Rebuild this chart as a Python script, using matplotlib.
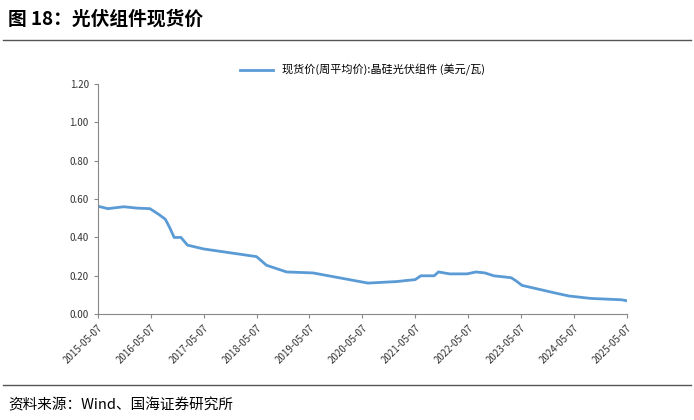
import matplotlib
matplotlib.use("Agg")
import matplotlib.pyplot as plt
import pandas as pd

plt.rcParams['font.family'] = ['Noto Sans CJK SC', 'DejaVu Sans']

dates = ["2015-05-07", "2015-07-15", "2015-11-01", "2016-02-01", "2016-05-01", "2016-07-01",
         "2016-08-15", "2016-09-15", "2016-10-15", "2016-12-01", "2017-01-15", "2017-05-07",
         "2018-05-07", "2018-07-15", "2018-12-01", "2019-06-01", "2020-06-15", "2021-01-01",
         "2021-03-01", "2021-05-07", "2021-06-15", "2021-09-15", "2021-10-15", "2022-01-01",
         "2022-05-01", "2022-07-01", "2022-09-01", "2022-11-01", "2023-01-01", "2023-03-01",
         "2023-04-01", "2023-05-15", "2024-01-01", "2024-04-01", "2024-09-01", "2025-04-01",
         "2025-05-07"]
price = [0.563, 0.550, 0.560, 0.553, 0.550, 0.520,
         0.495, 0.450, 0.400, 0.400, 0.360, 0.340,
         0.300, 0.255, 0.220, 0.215, 0.162, 0.170,
         0.175, 0.180, 0.200, 0.200, 0.220, 0.210,
         0.210, 0.220, 0.215, 0.200, 0.195, 0.190,
         0.175, 0.150, 0.110, 0.095, 0.082, 0.075,
         0.070]
dates = pd.to_datetime(dates)
tick_dates = pd.to_datetime([f"{y}-05-07" for y in range(2015, 2026)])
series_label = "现货价(周平均价):晶硅光伏组件 (美元/瓦)"

fig = plt.figure(figsize=(6.94, 4.20), dpi=100)
ax = fig.add_axes([0.141, 0.252, 0.762, 0.548])
ax.plot(dates, price, color="#5B9BD5", lw=2.0, label=series_label)
ax.set_ylim(0, 1.2)
ax.set_yticks([0, 0.2, 0.4, 0.6, 0.8, 1.0, 1.2])
ax.set_yticklabels([f"{v:.2f}" for v in ax.get_yticks()], fontsize=7, color="#333333")
ax.set_xlim(tick_dates[0], tick_dates[-1])
ax.set_xticks(tick_dates)
ax.set_xticklabels([d.strftime("%Y-%m-%d") for d in tick_dates], rotation=45,
                   ha="right", rotation_mode="anchor", fontsize=7, color="#333333")
for s in ["top", "right"]:
    ax.spines[s].set_visible(False)
for s in ["left", "bottom"]:
    ax.spines[s].set_color("#888888")
ax.tick_params(direction="out", length=3, color="#888888")
ax.legend(loc="upper center", bbox_to_anchor=(0.5, 1.13), frameon=False, fontsize=8,
          handlelength=3)

fig.text(0.012, 0.955, "图 18：光伏组件现货价", fontsize=13.5, fontweight="bold", va="center")
fig.add_artist(plt.Line2D([0.005, 0.995], [0.905, 0.905], color="#555555", lw=1))
fig.add_artist(plt.Line2D([0.005, 0.995], [0.083, 0.083], color="#555555", lw=1))
fig.text(0.012, 0.035, "资料来源：Wind、国海证券研究所", fontsize=10.5, va="center")
fig.savefig("out.png", dpi=100)
